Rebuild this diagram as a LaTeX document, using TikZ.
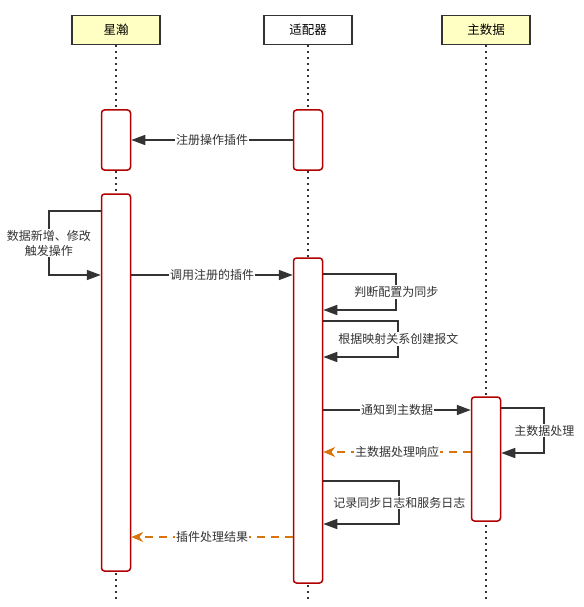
\documentclass[tikz,border=0pt]{standalone}
\usepackage{fontspec}
\setmainfont{Noto Sans CJK SC}
\usepackage{tikz}
\usetikzlibrary{positioning}
\usetikzlibrary{arrows.meta}
\definecolor{headfill}{HTML}{FFFFC4}
\definecolor{actred}{HTML}{B20000}
\definecolor{msggray}{HTML}{333333}
\definecolor{replyorange}{HTML}{D9730D}
\tikzstyle{head} = [draw=msggray, fill=headfill, line width=1.6pt, minimum width=88pt, minimum height=29pt, font=\fontsize{12.5}{15}\selectfont]
\tikzstyle{act} = [draw=actred, fill=white, line width=1.5pt, rounded corners=3pt, minimum width=29pt, inner sep=0pt]
\tikzstyle{life} = [msggray, line width=1.7pt, dash pattern=on 1.7pt off 4.3pt]
\tikzstyle{msg} = [msggray, line width=1.6pt, -{Triangle[length=14pt,width=10pt]}]
\tikzstyle{reply} = [replyorange, line width=1.6pt, dash pattern=on 8pt off 6pt, -{Stealth[length=12pt,width=10pt]}]
\tikzstyle{lbl} = [fill=white, text=msggray, inner sep=1pt, font=\fontsize{12}{15}\selectfont]

\begin{document}
\begin{tikzpicture}[x=1pt,y=-1pt]
\useasboundingbox (0,0) rectangle (583,607);
% heads
\node[head] (xh) at (116,30) {星瀚};
\node[head, fill=white] (adp) at (308,30) {适配器};
\node[head] (mdm) at (486,30) {主数据};
% lifelines
\coordinate (xhEnd) at (116,601);
\coordinate (adpEnd) at (308,601);
\coordinate (mdmEnd) at (486,601);
\draw[life] (xh.south) -- (xhEnd);
\draw[life] (adp.south) -- (adpEnd);
\draw[life] (mdm.south) -- (mdmEnd);
% activations
\node[act, minimum height=60pt] (xhA) at (116,140) {};
\node[act, minimum height=60pt] (adpA) at (308,140) {};
\node[act, minimum height=377pt] (xhB) at (116,382.5) {};
\node[act, minimum height=325pt] (adpB) at (308,420.5) {};
\node[act, minimum height=124pt] (mdmA) at (486,459) {};
% messages
\draw[msg] (adpA.west) -- node[lbl] {注册操作插件} (xhA.east);
\draw[msg] (xhB.west |- 0,211) -- ++(-52,0) -- node[lbl, align=center] {数据新增、修改\\触发操作} ++(0,64) -- (xhB.west |- 0,275);
\draw[msg] (xhB.east |- 0,275) -- node[lbl] {调用注册的插件} (adpB.west |- 0,275);
\draw[msg] (adpB.east |- 0,274) -- ++(73,0) -- node[lbl] {判断配置为同步} ++(0,36) -- (adpB.east |- 0,310);
\draw[msg] (adpB.east |- 0,321) -- ++(75,0) -- node[lbl] {根据映射关系创建报文} ++(0,36) -- (adpB.east |- 0,357);
\draw[msg] (adpB.east |- 0,410) -- node[lbl] {通知到主数据} (mdmA.west |- 0,410);
\draw[msg] (mdmA.east |- 0,408) -- ++(43,0) -- node[lbl] {主数据处理} ++(0,45) -- (mdmA.east |- 0,453);
\draw[reply] (mdmA.west |- 0,452) -- node[lbl] {主数据处理响应} (adpB.east |- 0,452);
\draw[msg] (adpB.east |- 0,481) -- ++(76,0) -- node[lbl] {记录同步日志和服务日志} ++(0,43) -- (adpB.east |- 0,524);
\draw[reply] (adpB.west |- 0,537) -- node[lbl] {插件处理结果} (xhB.east |- 0,537);
\end{tikzpicture}
\end{document}
